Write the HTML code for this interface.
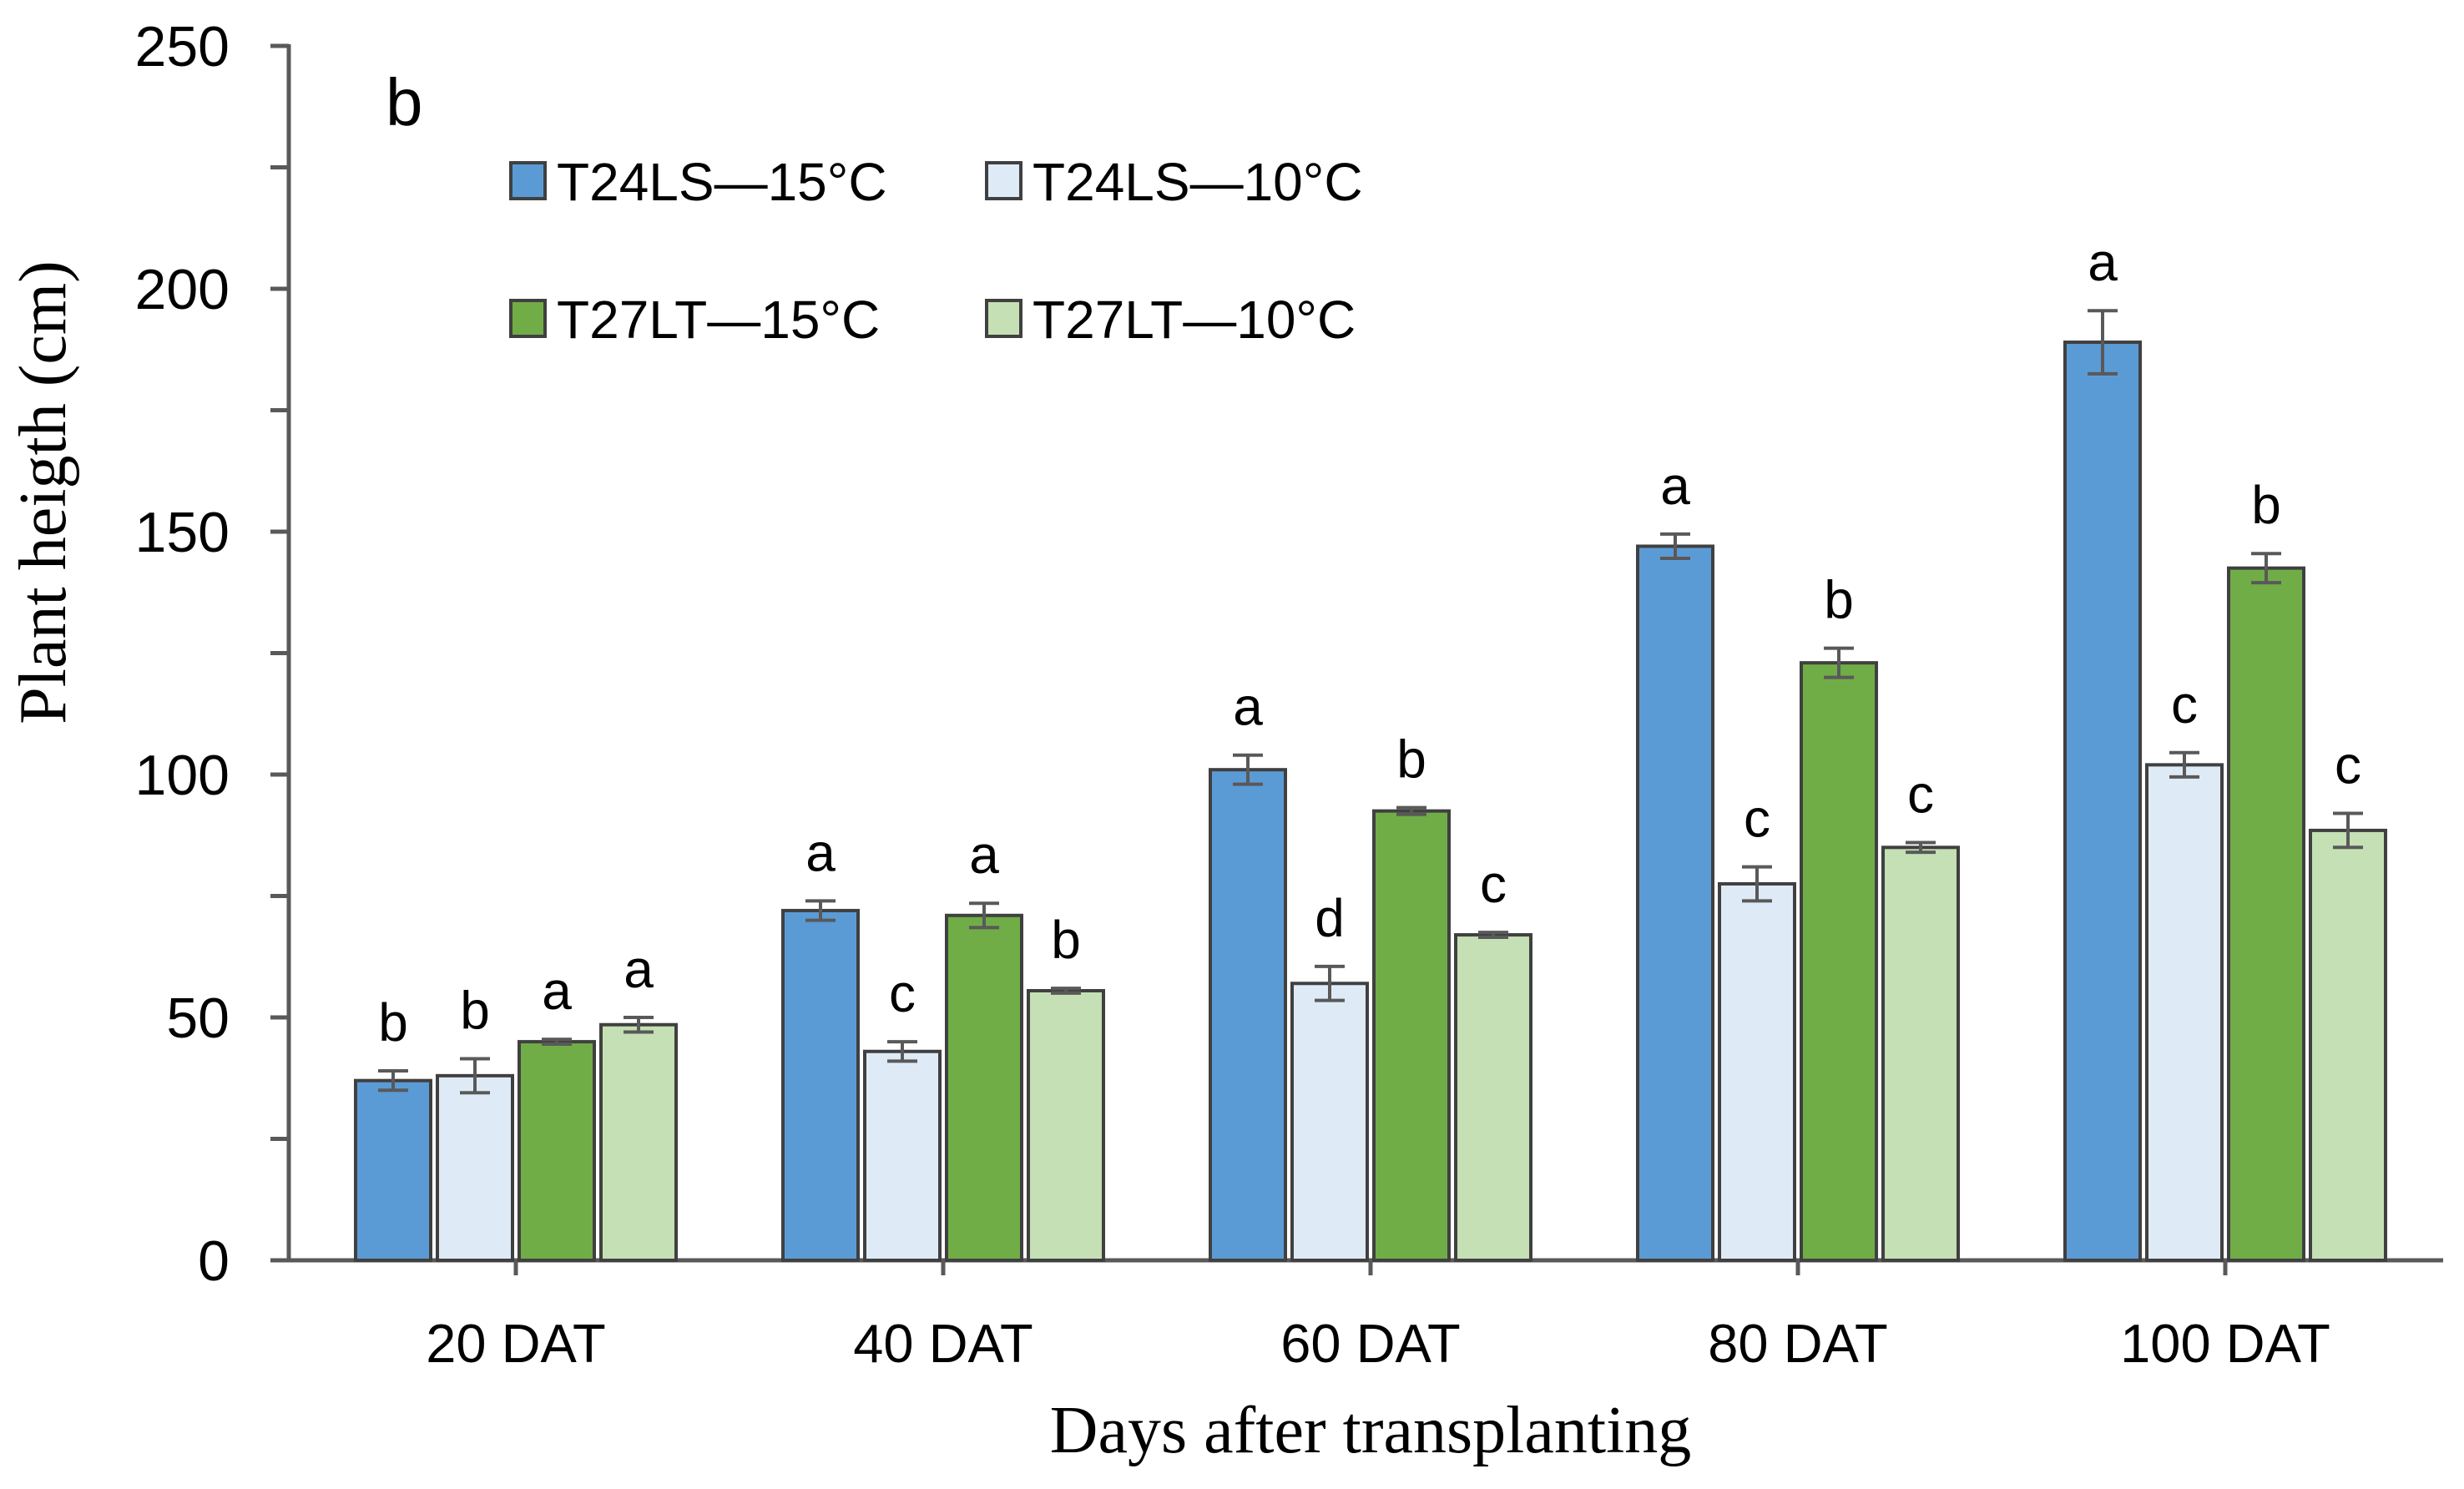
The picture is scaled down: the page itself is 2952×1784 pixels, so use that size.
<!DOCTYPE html>
<html><head><meta charset="utf-8"><style>
html,body{margin:0;padding:0;background:#fff;}
svg{display:block;}
text{font-family:"Liberation Sans",sans-serif;fill:#000;}
.serif{font-family:"Liberation Serif",serif;}
</style></head><body>
<svg id="chart" width="2952" height="1784" viewBox="0 0 2952 1784" xmlns="http://www.w3.org/2000/svg">
<g id="axes"></g><g id="bars"></g><g id="legend"></g>
<text x="462" y="150" font-size="80">b</text>
<text class="serif" transform="translate(78,590) rotate(-90)" text-anchor="middle" font-size="80">Plant heigth (cm)</text>
<text class="serif" x="1642" y="1740" text-anchor="middle" font-size="80">Days after transplanting</text>
</svg>
<script>
const categories = ["20 DAT","40 DAT","60 DAT","80 DAT","100 DAT"];
const seriesNames = ["T24LS\u201415\u00b0C","T24LS\u201410\u00b0C","T27LT\u201415\u00b0C","T27LT\u201410\u00b0C"];
const seriesColors = ["#5b9bd5","#deebf7","#70ad47","#c5e0b4"];
const s1 = [37, 72, 101, 147, 189];
const s2 = [38, 43, 57, 77.5, 102];
const s3 = [45, 71, 92.5, 123, 142.5];
const s4 = [48.5, 55.5, 67, 85, 88.5];
const e1 = [2, 2, 3, 2.5, 6.5];
const e2 = [3.5, 2, 3.5, 3.5, 2.5];
const e3 = [0.5, 2.5, 0.7, 3, 3];
const e4 = [1.5, 0.5, 0.5, 1, 3.5];
const l1 = ["b","a","a","a","a"];
const l2 = ["b","c","d","c","c"];
const l3 = ["a","a","b","b","b"];
const l4 = ["a","b","c","c","c"];
const yTicks = [0,25,50,75,100,125,150,175,200,225,250];
const yLabels = ["0","","50","","100","","150","","200","","250"];

const NS="http://www.w3.org/2000/svg";
const AX=346, X0=362, X1=2922, Y0=1510, Y1=55, YMAX=250;
const catW=(X1-X0)/categories.length, barW=90, barGap=8;
function y(v){return Y0-(Y0-Y1)*v/YMAX;}
function xc(i){return X0+catW*(i+0.5);}
function mk(tag,attrs,parent){const e=document.createElementNS(NS,tag);for(const k in attrs)e.setAttribute(k,attrs[k]);parent.appendChild(e);return e;}
const axes=document.getElementById('axes'), bars=document.getElementById('bars'), legend=document.getElementById('legend');
const G="#595959";
let ya=mk('line',{x1:AX,y1:Y1-2,x2:AX,y2:Y0,stroke:G,'stroke-width':5},axes);


yTicks.forEach((t,i)=>{
  let tk=mk('line',{x1:AX-22,y1:y(t),x2:AX,y2:y(t),stroke:G,'stroke-width':5},axes);
  
  
  if(yLabels[i]){
    let tx=mk('text',{x:275,y:y(t)+24,'text-anchor':'end','font-size':68},axes);
    tx.textContent=yLabels[i];
    
    
  }
});
let xa=mk('line',{x1:AX,y1:Y0,x2:2927,y2:Y0,stroke:G,'stroke-width':5},axes);


categories.forEach((c,i)=>{
  let tk=mk('line',{x1:xc(i),y1:Y0,x2:xc(i),y2:Y0+18,stroke:G,'stroke-width':5},axes);
  
  
  let tx=mk('text',{x:xc(i),y:1632,'text-anchor':'middle','font-size':65},axes);
  tx.textContent=c;
  
  
});
const vals=[s1,s2,s3,s4], errs=[e1,e2,e3,e4], lets=[l1,l2,l3,l4];
categories.forEach((c,i)=>{
  const gw=4*barW+3*barGap, gx=xc(i)-gw/2;
  for(let s=0;s<4;s++){
    const v=vals[s][i], er=errs[s][i];
    const bx=gx+s*(barW+barGap), cx=bx+barW/2;
    let r=mk('rect',{x:bx,y:y(v),width:barW,height:Y0-y(v),fill:seriesColors[s],stroke:"#404040",'stroke-width':4},bars);
    
    
    let eb=mk('path',{d:`M${cx},${y(v+er)}V${y(v-er)}M${cx-18},${y(v+er)}h36M${cx-18},${y(v-er)}h36`,stroke:G,'stroke-width':4,fill:'none'},bars);
    
    
    let lt=mk('text',{x:cx,y:y(v+er)-36,'text-anchor':'middle','font-size':64},bars);
    lt.textContent=lets[s][i];
    
    
  }
});
const legPos=[[612,195],[1182,195],[612,360],[1182,360]];
seriesNames.forEach((n,s)=>{
  const [lx,ly]=legPos[s];
  let b=mk('rect',{x:lx,y:ly,width:41,height:43,fill:seriesColors[s],stroke:"#404040",'stroke-width':4},legend);
  
  
  let t=mk('text',{x:lx+55,y:ly+45,'font-size':64},legend);
  t.textContent=n;
  
  
});
</script>
</body></html>
